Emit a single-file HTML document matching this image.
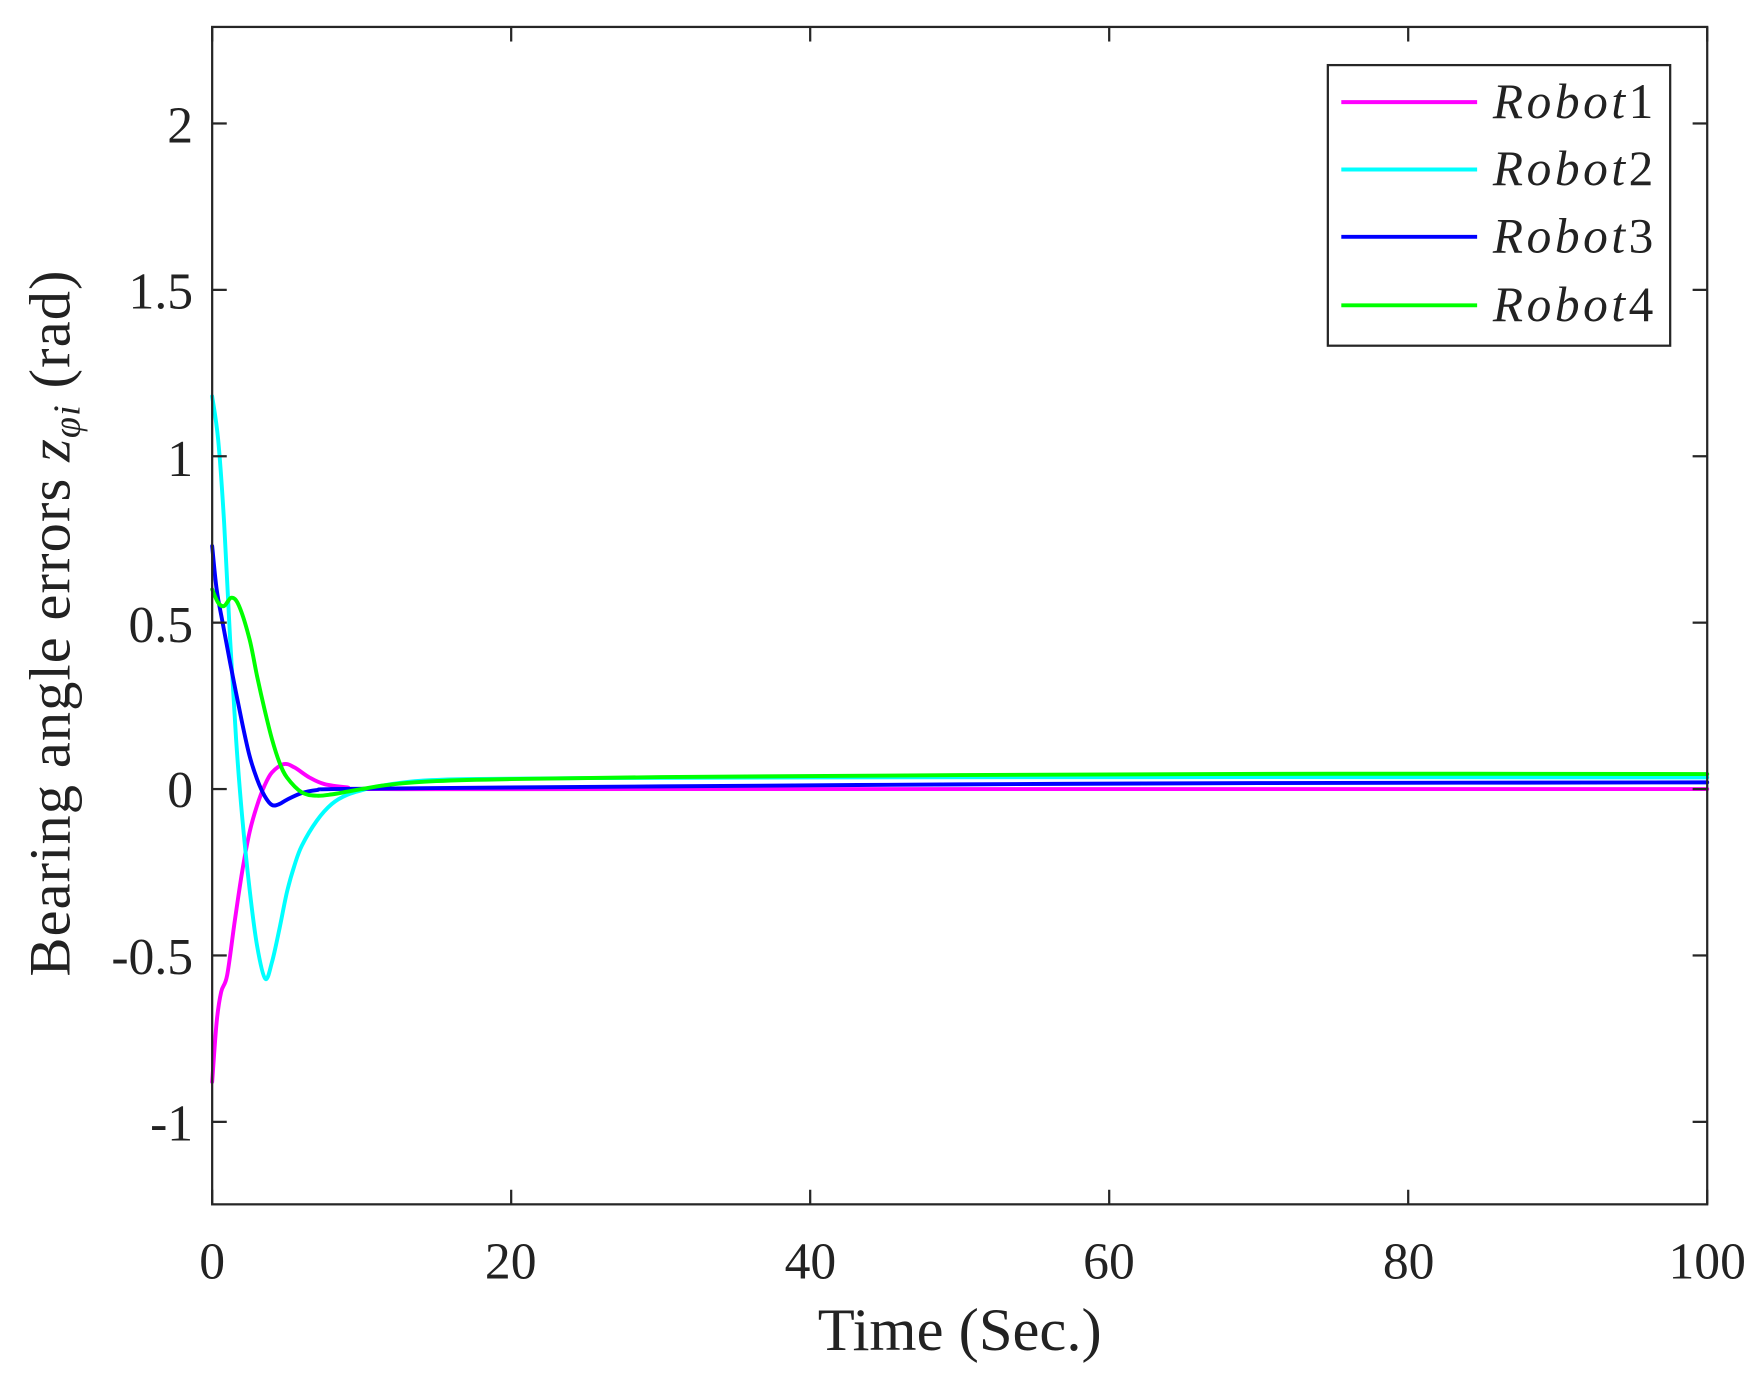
<!DOCTYPE html>
<html><head><meta charset="utf-8"><style>
html,body{margin:0;padding:0;background:#fff;}
svg{display:block;}
text{font-family:"Liberation Serif",serif;fill:#222;}
</style></head><body>
<svg id="s" width="1760" height="1380" viewBox="0 0 1568 1229.5" xmlns="http://www.w3.org/2000/svg">
<rect x="0" y="0" width="1568" height="1230" fill="#fff"/>
<g id="curves" fill="none" stroke-linejoin="round" stroke-linecap="round"></g>
<rect x="189" y="24" width="1332" height="1049" fill="none" stroke="#262626" stroke-width="2"/>
<g id="ticks" stroke="#262626" stroke-width="2"></g>
<g font-size="46" text-anchor="end">
<text x="172" y="127">2</text>
<text x="172" y="275">1.5</text>
<text x="172" y="424">1</text>
<text x="172" y="572">0.5</text>
<text x="172" y="719">0</text>
<text x="172" y="868">-0.5</text>
<text x="172" y="1016">-1</text>
</g>
<g font-size="46" text-anchor="middle">
<text x="189" y="1139">0</text>
<text x="455" y="1139">20</text>
<text x="722" y="1139">40</text>
<text x="988" y="1139">60</text>
<text x="1255" y="1139">80</text>
<text x="1521" y="1139">100</text>
</g>
<text x="855" y="1203" font-size="54" text-anchor="middle">Time (Sec.)</text>
<text transform="translate(62,555) rotate(-90)" font-size="52" text-anchor="middle" letter-spacing="1">Bearing angle errors <tspan font-style="italic">z</tspan><tspan font-style="italic" font-size="34" dy="9">φi</tspan><tspan dy="-9">  (rad)</tspan></text>
<rect x="1183" y="58" width="305" height="250" fill="#fff" stroke="#262626" stroke-width="2"/>
<g stroke-width="3.5">
<line x1="1195" y1="91" x2="1316" y2="91" stroke="#ff00ff"/>
<line x1="1195" y1="151" x2="1316" y2="151" stroke="#00ffff"/>
<line x1="1195" y1="211" x2="1316" y2="211" stroke="#0000ff"/>
<line x1="1195" y1="272" x2="1316" y2="272" stroke="#00ff00"/>
</g>
<g font-size="44">
<text x="1330" y="105" textLength="143"><tspan font-style="italic">Robot</tspan>1</text>
<text x="1330" y="165" textLength="143"><tspan font-style="italic">Robot</tspan>2</text>
<text x="1330" y="225" textLength="143"><tspan font-style="italic">Robot</tspan>3</text>
<text x="1330" y="286" textLength="143"><tspan font-style="italic">Robot</tspan>4</text>
</g>
</svg>
<script>
var X=function(t){return 189+t*13.32;}, Y=function(v){return 703-v*296.5;};
var tk=document.getElementById('ticks'),h='';
[-1,-0.5,0,0.5,1,1.5,2].forEach(function(v){var y=Y(v);h+='<line x1="189" y1="'+y+'" x2="202" y2="'+y+'"/><line x1="1508" y1="'+y+'" x2="1521" y2="'+y+'"/>';});
[0,20,40,60,80,100].forEach(function(t){var x=X(t);h+='<line x1="'+x+'" y1="1073" x2="'+x+'" y2="1060"/><line x1="'+x+'" y1="24" x2="'+x+'" y2="37"/>';});
tk.innerHTML=h;
function path(pts){var p=pts.map(function(a){return [X(a[0]),Y(a[1])];});
var d='M'+p[0][0]+','+p[0][1];
for(var i=0;i<p.length-1;i++){var p0=p[i-1]||p[i],p1=p[i],p2=p[i+1],p3=p[i+2]||p2;
var c1x=p1[0]+(p2[0]-p0[0])/6,c1y=p1[1]+(p2[1]-p0[1])/6,c2x=p2[0]-(p3[0]-p1[0])/6,c2y=p2[1]-(p3[1]-p1[1])/6;
d+=' C'+c1x+','+c1y+' '+c2x+','+c2y+' '+p2[0]+','+p2[1];}
return d;}
var S=[
['#ff00ff',[[0,-0.88],[0.3,-0.7],[0.6,-0.61],[1,-0.56],[1.5,-0.4],[2,-0.25],[2.5,-0.13],[3,-0.05],[3.5,0.01],[4,0.05],[4.8,0.075],[5.5,0.065],[6.5,0.035],[7.5,0.015],[9,0.005],[11,0],[30,0],[100,0]]],
['#00ffff',[[0,1.18],[0.4,1.05],[0.8,0.8],[1.2,0.45],[1.6,0.15],[2,-0.08],[2.5,-0.3],[3,-0.47],[3.55,-0.57],[4,-0.52],[4.5,-0.42],[5,-0.31],[5.5,-0.23],[6,-0.17],[7,-0.095],[8,-0.045],[9,-0.018],[10.5,0.002],[12,0.015],[14,0.025],[17,0.03],[25,0.033],[40,0.035],[70,0.036],[100,0.035]]],
['#0000ff',[[0,0.73],[0.3,0.6],[0.7,0.5],[1.2,0.38],[2,0.2],[2.5,0.1],[3,0.03],[3.5,-0.02],[4,-0.048],[4.5,-0.045],[5,-0.032],[6,-0.012],[7,-0.003],[8,0],[15,0.003],[30,0.008],[50,0.014],[70,0.018],[100,0.02]]],
['#00ff00',[[0,0.6],[0.4,0.56],[0.8,0.55],[1.3,0.575],[1.8,0.55],[2.5,0.45],[3,0.34],[3.5,0.24],[4,0.15],[4.5,0.08],[5,0.035],[6,-0.01],[7,-0.02],[8,-0.016],[9,-0.008],[10,0],[12,0.014],[15,0.024],[20,0.03],[30,0.036],[50,0.042],[75,0.046],[100,0.045]]]
];
var g=document.getElementById('curves'),s='';
S.forEach(function(c){s+='<path d="'+path(c[1])+'" stroke="'+c[0]+'" stroke-width="3.5"/>';});
g.innerHTML=s;
</script>
</body></html>
